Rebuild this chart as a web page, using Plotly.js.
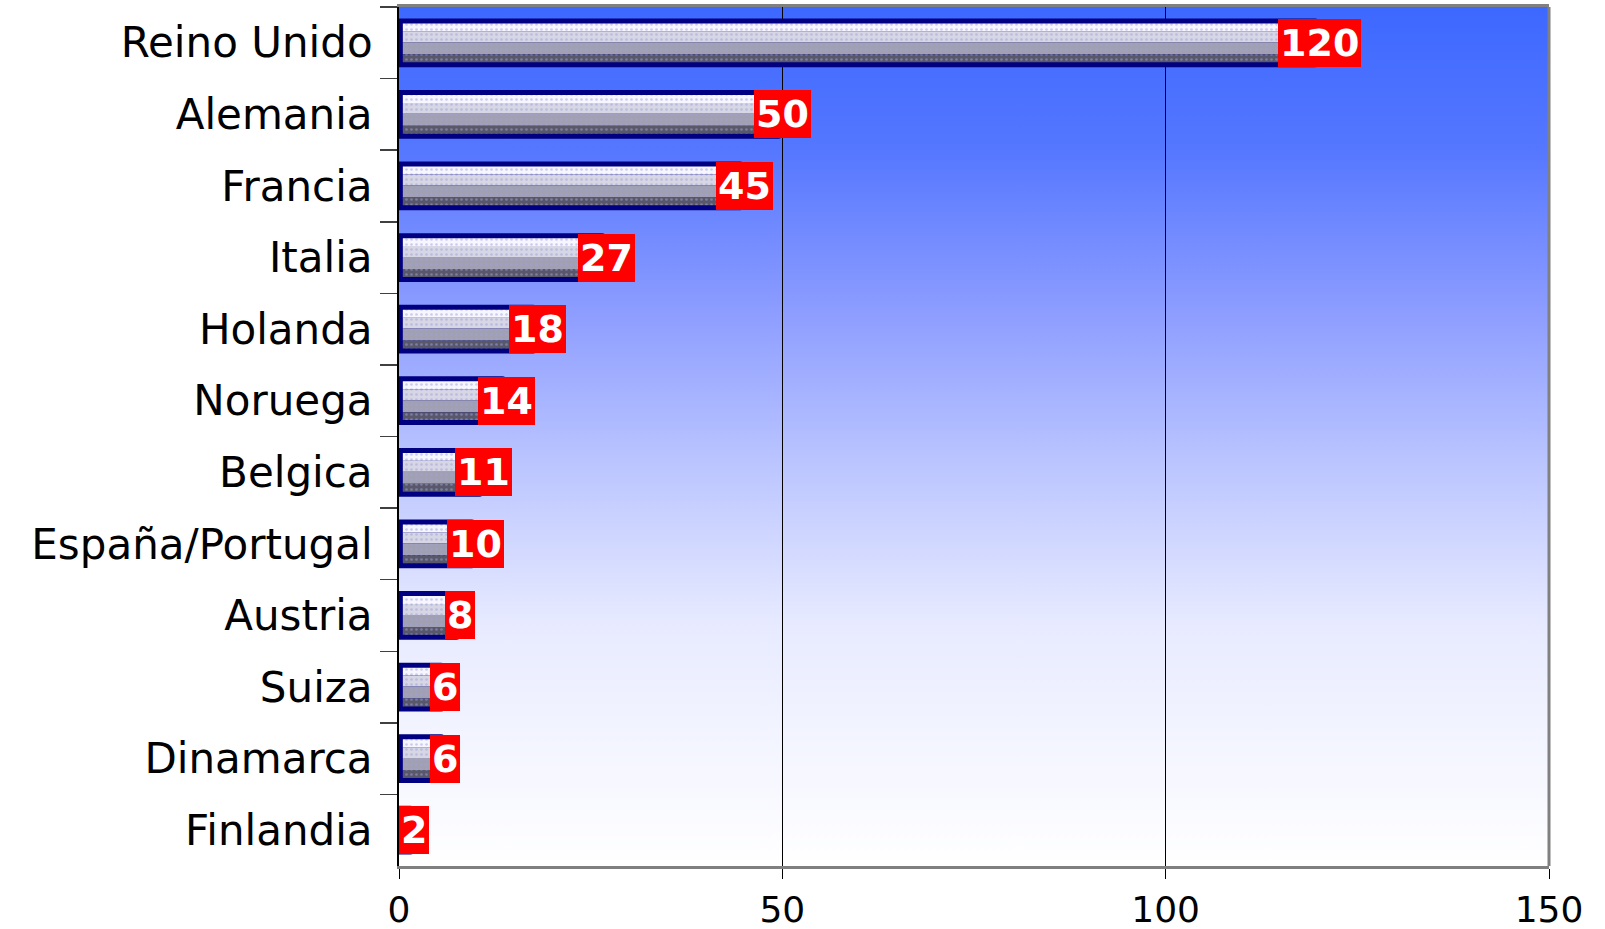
<!DOCTYPE html>
<html>
<head>
<meta charset="utf-8">
<script src="https://cdn.plot.ly/plotly-3.0.1.min.js"></script>
<style>
  html, body { margin: 0; padding: 0; background: #ffffff; }
  #chart { width: 1605px; height: 929px; }
</style>
</head>
<body>
<div id="chart"></div>
<script>
// ---- data ----
var countries = ["Reino Unido", "Alemania", "Francia", "Italia", "Holanda", "Noruega",
                 "Belgica", "España/Portugal", "Austria", "Suiza", "Dinamarca", "Finlandia"];
var values = [120, 50, 45, 27, 18, 14, 11, 10, 8, 6, 6, 2];
var xTickValues = [0, 50, 100, 150];
var xTickLabels = ["0", "50", "100", "150"];

// ---- build ----
var FONT = "DejaVu Sans, Liberation Sans, Arial, sans-serif";

var outerLen = values.map(function (v) { return v + 0.5; });
var innerLen = values.map(function (v) { return Math.max(v - 1.1, 0.3); });

function barTrace(len, base, offset, width, color, withDots) {
  var t = {
    type: "bar", orientation: "h",
    y: countries, x: len, base: base,
    offset: offset, width: width,
    marker: { color: color, line: { width: 0 } },
    hoverinfo: "skip", showlegend: false
  };
  if (withDots) {
    t.marker.pattern = { shape: ".", bgcolor: color, fgcolor: "#a0a0dc",
                         size: 5, solidity: 0.22, fillmode: "overlay" };
  }
  return t;
}

var traces = [
  barTrace(outerLen, -0.5, -0.341, 0.681, "#000080", false),
  barTrace(innerLen, 0.5, -0.271, 0.111, "#f6f6ff", true),
  barTrace(innerLen, 0.5, -0.160, 0.153, "#d6d6e4", true),
  barTrace(innerLen, 0.5, -0.007, 0.167, "#a0a0b2", true),
  barTrace(innerLen, 0.5, 0.160, 0.111, "#58586a", true)
];
traces[0].marker.cornerradius = 4;

var annotations = countries.map(function (c, i) {
  return {
    x: values[i], y: c, xref: "x", yref: "y",
    text: String(values[i]), showarrow: false,
    xanchor: "center", yanchor: "middle",
    bgcolor: "#ff0000", borderpad: 2, borderwidth: 0,
    font: { family: FONT, size: 38, color: "#ffffff", weight: "bold" }
  };
});

var svg = "<svg xmlns='http://www.w3.org/2000/svg' width='100' height='100' preserveAspectRatio='none'>" +
  "<defs><linearGradient id='g' x1='0' y1='0' x2='0' y2='1'>" +
  "<stop offset='0' stop-color='#3d68ff'/>" +
  "<stop offset='0.166' stop-color='#5577ff'/>" +
  "<stop offset='0.351' stop-color='#8c9cff'/>" +
  "<stop offset='0.536' stop-color='#bcc6ff'/>" +
  "<stop offset='0.722' stop-color='#e8ebff'/>" +
  "<stop offset='1' stop-color='#ffffff'/>" +
  "</linearGradient></defs><rect width='100' height='100' fill='url(#g)'/></svg>";
var bgSrc = "data:image/svg+xml;charset=utf-8," + encodeURIComponent(svg);

var layout = {
  width: 1605, height: 929,
  margin: { l: 399, r: 56, t: 7, b: 63, pad: 0 },
  paper_bgcolor: "#ffffff",
  plot_bgcolor: "rgba(0,0,0,0)",
  barmode: "overlay",
  showlegend: false,
  font: { family: FONT, color: "#000000" },
  xaxis: {
    range: [0, 150], tickvals: xTickValues, ticktext: xTickLabels,
    ticks: "outside", ticklen: 10, tickcolor: "#000000", tickwidth: 1,
    tickfont: { family: FONT, size: 36, color: "#000000" },
    showgrid: true, gridcolor: "#000000", gridwidth: 1,
    zeroline: false,
    showline: true, linecolor: "#808080", linewidth: 3, mirror: true,
    fixedrange: true
  },
  yaxis: {
    type: "category", autorange: "reversed",
    ticks: "outside", ticklen: 17, tickcolor: "#404040", tickwidth: 1.5,
    tickson: "boundaries", ticklabelstandoff: 16,
    tickfont: { family: FONT, size: 42, color: "#000000" },
    showgrid: false, zeroline: false,
    showline: true, linecolor: "#000000", linewidth: 2,
    fixedrange: true
  },
  images: [{
    source: bgSrc, xref: "paper", yref: "paper",
    x: 0, y: 1, sizex: 1, sizey: 1, xanchor: "left", yanchor: "top",
    sizing: "stretch", layer: "below"
  }],
  shapes: [{
    type: "line", xref: "paper", yref: "paper",
    x0: 1, x1: 1, y0: 0, y1: 1,
    line: { color: "#808080", width: 3 }, layer: "above"
  }],
  annotations: annotations
};

Plotly.newPlot("chart", traces, layout, { displayModeBar: false, staticPlot: true });
</script>
</body>
</html>
